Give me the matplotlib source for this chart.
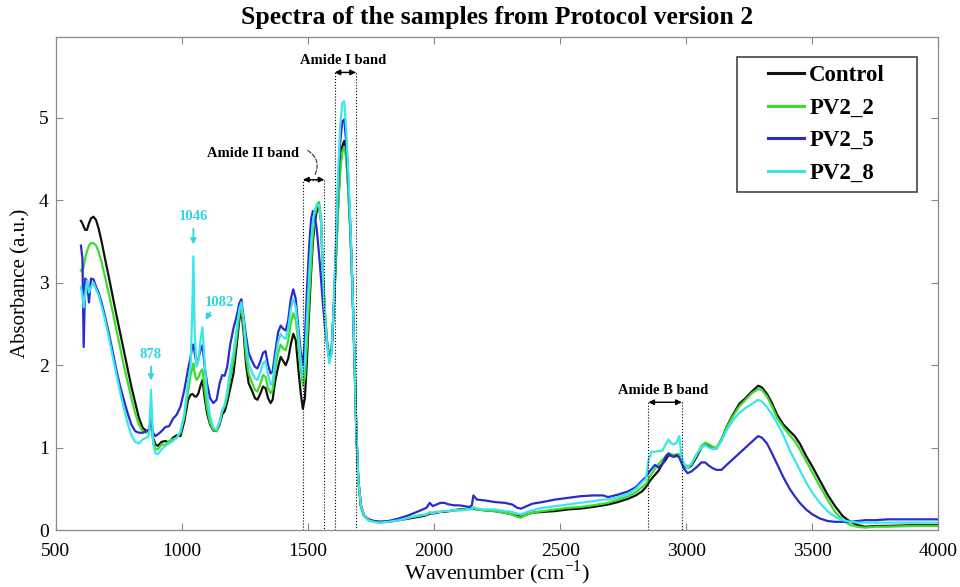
import matplotlib
matplotlib.use("Agg")
import matplotlib.pyplot as plt
from matplotlib.patches import Rectangle
import numpy as np

plt.rcParams["font.family"] = ["Liberation Serif", "DejaVu Serif"]
plt.rcParams["mathtext.fontset"] = "custom"
plt.rcParams["mathtext.rm"] = "Liberation Serif"

# wavenumber grid (cm-1)
wavenumber = [
    600, 606, 611, 617, 624, 632, 640, 650, 660, 670, 682, 695, 710, 725, 740, 755, 770, 785, 800,
    815, 830, 845, 860, 870, 878, 886, 895, 905, 920, 935, 950, 965, 980, 995, 1010, 1025, 1035,
    1041, 1046, 1051, 1058, 1066, 1074, 1082, 1090, 1100, 1112, 1125, 1138, 1150, 1160, 1170, 1180,
    1192, 1205, 1218, 1228, 1236, 1245, 1255, 1265, 1277, 1290, 1300, 1312, 1322, 1332, 1342, 1352,
    1360, 1370, 1382, 1392, 1402, 1412, 1422, 1432, 1442, 1452, 1462, 1472, 1480,
    1488, 1496, 1505, 1513, 1520, 1528, 1536, 1544, 1552, 1560, 1568, 1576, 1585, 1594, 1603, 1612,
    1620, 1628, 1636, 1644, 1652, 1660, 1668, 1676, 1684, 1692, 1700, 1710, 1722,
    1740, 1760, 1785, 1820, 1860, 1900, 1940, 1970, 1983, 1995, 2010, 2025, 2040, 2060, 2080, 2100,
    2120, 2140, 2150, 2156, 2170, 2200, 2240, 2280, 2310, 2330, 2345, 2360, 2390, 2430, 2480, 2530,
    2580, 2630, 2670, 2690, 2730, 2770, 2800, 2825,
    2840, 2850, 2862, 2876, 2890, 2905, 2920, 2930, 2940, 2952, 2962, 2972, 2982, 2992, 3005, 3020,
    3040, 3060, 3075, 3090, 3105, 3120, 3140, 3160, 3185, 3210, 3235, 3260, 3285, 3300, 3320, 3340,
    3360, 3385, 3410, 3430, 3450, 3475, 3500, 3530, 3560, 3590, 3620, 3650, 3680, 3710, 3750, 3800,
    3900, 4000,
]

control = [
    3.75, 3.72, 3.68, 3.64, 3.64, 3.72, 3.78, 3.80, 3.76, 3.66, 3.50, 3.30, 3.08, 2.85, 2.62, 2.40, 2.18, 1.96, 1.74,
    1.55, 1.36, 1.24, 1.20, 1.22, 1.28, 1.12, 1.04, 1.02, 1.07, 1.08, 1.06, 1.12, 1.15, 1.14, 1.32, 1.58, 1.64,
    1.65, 1.64, 1.62, 1.62, 1.66, 1.75, 1.82, 1.62, 1.42, 1.28, 1.21, 1.20, 1.28, 1.40, 1.44, 1.55,
    1.72, 1.90, 2.25, 2.55, 2.66, 2.40, 2.00, 1.78, 1.70, 1.60, 1.58, 1.66, 1.74, 1.72, 1.60, 1.54,
    1.58, 1.80, 1.98, 2.10, 2.05, 2.00, 2.08, 2.25, 2.38, 2.30, 1.95, 1.65, 1.47,
    1.60, 2.05, 2.65, 3.15, 3.50, 3.75, 3.88, 3.93, 3.75, 3.05, 2.60, 2.28, 2.08, 2.20, 2.70, 3.35,
    3.95, 4.40, 4.65, 4.72, 4.55, 4.15, 3.65, 3.00, 2.15, 1.20, 0.60, 0.30, 0.18,
    0.13, 0.11, 0.10, 0.10, 0.12, 0.14, 0.16, 0.18, 0.20, 0.20, 0.21, 0.22, 0.22, 0.23, 0.24, 0.25,
    0.25, 0.26, 0.26, 0.26, 0.25, 0.24, 0.23, 0.21, 0.19, 0.17, 0.16, 0.18, 0.21, 0.22, 0.23, 0.25,
    0.26, 0.28, 0.30, 0.31, 0.34, 0.38, 0.42, 0.47,
    0.52, 0.57, 0.62, 0.67, 0.72, 0.80, 0.86, 0.91, 0.90, 0.89, 0.90, 0.89, 0.83, 0.78, 0.75, 0.78,
    0.88, 1.00, 1.05, 1.03, 1.00, 0.99, 1.10, 1.25, 1.40, 1.53, 1.60, 1.68, 1.75, 1.73, 1.65, 1.54,
    1.40, 1.28, 1.20, 1.14, 1.05, 0.90, 0.77, 0.60, 0.43, 0.29, 0.17, 0.10, 0.06, 0.04, 0.05, 0.05,
    0.06, 0.06,
]

pv2_2 = [
    3.15, 3.13, 3.20, 3.30, 3.38, 3.45, 3.48, 3.48, 3.45, 3.38, 3.25, 3.08, 2.88, 2.66, 2.44, 2.22, 2.00, 1.80, 1.60,
    1.42, 1.28, 1.20, 1.18, 1.20, 1.26, 1.10, 0.98, 0.98, 1.04, 1.03, 1.08, 1.10, 1.12, 1.18, 1.38, 1.68, 1.88,
    1.95, 2.02, 1.90, 1.82, 1.85, 1.92, 1.95, 1.72, 1.48, 1.30, 1.22, 1.20, 1.30, 1.45, 1.50, 1.62,
    1.85, 2.05, 2.35, 2.62, 2.70, 2.48, 2.10, 1.90, 1.80, 1.70, 1.68, 1.78, 1.88, 1.86, 1.72, 1.66,
    1.70, 1.95, 2.15, 2.25, 2.20, 2.18, 2.30, 2.50, 2.63, 2.55, 2.25, 1.95, 1.75,
    1.85, 2.25, 2.80, 3.25, 3.60, 3.82, 3.95, 3.98, 3.80, 3.10, 2.62, 2.28, 2.08, 2.20, 2.70, 3.35,
    3.90, 4.35, 4.58, 4.65, 4.50, 4.10, 3.60, 2.95, 2.10, 1.15, 0.58, 0.28, 0.17,
    0.12, 0.10, 0.09, 0.10, 0.12, 0.15, 0.17, 0.19, 0.21, 0.21, 0.22, 0.22, 0.23, 0.23, 0.24, 0.24,
    0.25, 0.26, 0.26, 0.27, 0.25, 0.24, 0.23, 0.21, 0.19, 0.16, 0.15, 0.18, 0.21, 0.23, 0.25, 0.27,
    0.28, 0.30, 0.32, 0.33, 0.37, 0.41, 0.46, 0.52,
    0.56, 0.61, 0.68, 0.74, 0.80, 0.85, 0.90, 0.93, 0.92, 0.91, 0.92, 0.92, 0.85, 0.80, 0.77, 0.80,
    0.90, 1.02, 1.06, 1.04, 1.01, 1.00, 1.10, 1.24, 1.38, 1.50, 1.58, 1.66, 1.71, 1.70, 1.62, 1.50,
    1.36, 1.25, 1.15, 1.08, 0.98, 0.84, 0.70, 0.53, 0.37, 0.22, 0.12, 0.06, 0.04, 0.03, 0.04, 0.04,
    0.05, 0.05,
]

pv2_5 = [
    3.45, 3.30, 2.22, 3.05, 3.03, 2.76, 3.05, 3.04, 2.95, 2.88, 2.76, 2.60, 2.40, 2.18, 1.95, 1.75, 1.58, 1.42, 1.28,
    1.20, 1.18, 1.18, 1.20, 1.22, 1.35, 1.18, 1.14, 1.16, 1.20, 1.25, 1.26, 1.35, 1.40, 1.50, 1.70, 1.95, 2.10,
    2.22, 2.25, 2.15, 2.03, 2.08, 2.18, 2.24, 2.00, 1.78, 1.60, 1.54, 1.58, 1.78, 1.88, 1.87, 1.98,
    2.25, 2.45, 2.60, 2.75, 2.80, 2.58, 2.35, 2.15, 2.06, 1.98, 1.96, 2.05, 2.15, 2.17, 2.00, 1.90,
    1.92, 2.15, 2.40, 2.48, 2.44, 2.42, 2.55, 2.80, 2.92, 2.80, 2.45, 2.15, 2.00,
    2.30, 2.90, 3.45, 3.78, 3.87, 3.80, 3.62, 3.35, 3.05, 2.72, 2.45, 2.25, 2.08, 2.15, 2.75, 3.50,
    4.20, 4.70, 4.95, 4.98, 4.70, 4.25, 3.70, 3.00, 2.15, 1.20, 0.60, 0.30, 0.18,
    0.13, 0.11, 0.10, 0.11, 0.14, 0.18, 0.23, 0.27, 0.33, 0.29, 0.31, 0.33, 0.33, 0.31, 0.30, 0.30,
    0.29, 0.28, 0.30, 0.42, 0.37, 0.36, 0.34, 0.33, 0.31, 0.27, 0.26, 0.28, 0.32, 0.34, 0.37, 0.39,
    0.41, 0.42, 0.42, 0.40, 0.43, 0.47, 0.52, 0.60,
    0.64, 0.69, 0.74, 0.79, 0.76, 0.80, 0.90, 0.93, 0.90, 0.89, 0.91, 0.88, 0.81, 0.74, 0.69, 0.71,
    0.76, 0.82, 0.82, 0.78, 0.75, 0.73, 0.73, 0.79, 0.86, 0.93, 1.00, 1.07, 1.14, 1.12, 1.05, 0.93,
    0.80, 0.64, 0.50, 0.41, 0.33, 0.25, 0.19, 0.14, 0.11, 0.10, 0.10, 0.10, 0.11, 0.12, 0.12, 0.13,
    0.13, 0.13,
]

pv2_8 = [
    2.95, 2.85, 2.70, 2.85, 3.03, 2.88, 2.95, 3.00, 2.92, 2.85, 2.72, 2.56, 2.35, 2.12, 1.90, 1.68, 1.48, 1.30, 1.15,
    1.07, 1.05, 1.10, 1.12, 1.15, 1.70, 1.05, 0.93, 0.92, 0.98, 1.02, 1.05, 1.08, 1.12, 1.20, 1.40, 1.80, 2.00,
    2.60, 3.32, 2.40, 1.98, 2.05, 2.30, 2.46, 2.05, 1.65, 1.38, 1.24, 1.22, 1.32, 1.45, 1.52, 1.68,
    1.95, 2.15, 2.45, 2.68, 2.76, 2.55, 2.25, 2.02, 1.92, 1.84, 1.82, 1.92, 2.02, 2.05, 1.88, 1.76,
    1.80, 2.05, 2.28, 2.38, 2.34, 2.32, 2.45, 2.68, 2.80, 2.70, 2.38, 2.05, 1.85,
    2.05, 2.55, 3.10, 3.50, 3.75, 3.88, 3.95, 3.94, 3.75, 3.05, 2.58, 2.25, 2.02, 2.15, 2.80, 3.55,
    4.35, 4.90, 5.18, 5.20, 4.85, 4.35, 3.75, 3.02, 2.15, 1.20, 0.60, 0.30, 0.18,
    0.12, 0.10, 0.09, 0.10, 0.12, 0.15, 0.18, 0.19, 0.22, 0.20, 0.22, 0.22, 0.23, 0.23, 0.24, 0.24,
    0.24, 0.25, 0.25, 0.28, 0.26, 0.25, 0.25, 0.23, 0.22, 0.20, 0.19, 0.21, 0.24, 0.27, 0.29, 0.31,
    0.33, 0.35, 0.37, 0.37, 0.40, 0.44, 0.50, 0.58,
    0.62, 0.84, 0.95, 0.95, 0.96, 0.96, 1.05, 1.10, 1.05, 1.04, 1.06, 1.14, 0.88, 0.80, 0.75, 0.80,
    0.92, 1.00, 1.03, 1.00, 0.98, 0.99, 1.08, 1.21, 1.33, 1.42, 1.48, 1.53, 1.58, 1.56, 1.49, 1.40,
    1.30, 1.15, 0.97, 0.85, 0.73, 0.58, 0.45, 0.33, 0.23, 0.16, 0.12, 0.10, 0.09, 0.09, 0.09, 0.09,
    0.09, 0.09,
]

series_names = ["Control", "PV2_2", "PV2_5", "PV2_8"]
series_colors = ["#111111", "#3ddc2a", "#2a2ad0", "#3ae6ea"]

# band limits (cm-1) and arrow heights
amide_bands = [("Amide II band", 1481, 1565, 4.25), ("Amide I band", 1606, 1690, 5.55),
               ("Amide B band", 2850, 2982, 1.55)]

fig = plt.figure(figsize=(9.6, 5.87), dpi=100)
ax = fig.add_axes([0.058, 0.097, 0.9196, 0.84])

for y, name, col in zip([control, pv2_2, pv2_5, pv2_8], series_names, series_colors):
    ax.plot(wavenumber, y, color=col, lw=1.6, label=name)

ax.set_xlim(500, 4000)
ax.set_ylim(0, 5.98)
ax.set_xticks(np.arange(500, 4001, 500))
ax.set_yticks(np.arange(0, 6, 1))
ax.tick_params(direction="in", top=True, right=True, length=5, color="#888888", labelsize=14)
ax.tick_params(axis="x", pad=9)
ax.tick_params(axis="y", pad=5)
for sp in ax.spines.values():
    sp.set_color("#8a8a8a")
    sp.set_linewidth(0.9)

ax.set_title("Spectra of the samples from Protocol version 2", fontsize=18.5,
             fontweight="bold", pad=9)
ax.set_xlabel("Wavenumber (cm$^{-1}$)", fontsize=16, labelpad=-1)
ax.set_ylabel("Absorbance (a.u.)", fontsize=15, labelpad=6)

# dotted band boxes with double arrows
for label, lo, hi, top in amide_bands:
    ax.plot([lo, lo, hi, hi], [0, top, top, 0], color="black", lw=0.8, ls=":")
    ax.annotate("", xy=(lo, top), xytext=(hi, top),
                arrowprops=dict(arrowstyle="<|-|>", color="black", lw=1.0,
                                mutation_scale=8, shrinkA=0, shrinkB=0))

ax.text(1640, 5.69, "Amide I band", ha="center", va="center", fontsize=10.5, fontweight="bold")
ax.text(1282, 4.57, "Amide II band", ha="center", va="center", fontsize=10.5, fontweight="bold")
ax.annotate("", xy=(1523, 4.28), xytext=(1490, 4.62),
            arrowprops=dict(arrowstyle="-", color="#333333", lw=0.8, ls="--",
                            connectionstyle="arc3,rad=-0.5"))
ax.text(2910, 1.69, "Amide B band", ha="center", va="center", fontsize=10.5, fontweight="bold")

# peak markers
label_col = "#2fd6e0"
ax.text(878, 2.05, "878", color=label_col, ha="center", va="bottom", fontsize=10.5, fontweight="bold")
ax.annotate("", xy=(878, 1.78), xytext=(878, 2.02),
            arrowprops=dict(arrowstyle="-|>", color=label_col, lw=1.3, mutation_scale=8))
ax.text(1046, 3.72, "1046", color=label_col, ha="center", va="bottom", fontsize=10.5, fontweight="bold")
ax.annotate("", xy=(1046, 3.43), xytext=(1046, 3.69),
            arrowprops=dict(arrowstyle="-|>", color=label_col, lw=1.3, mutation_scale=8))
ax.text(1150, 2.68, "1082", color=label_col, ha="center", va="bottom", fontsize=10.5, fontweight="bold")
ax.annotate("", xy=(1088, 2.52), xytext=(1118, 2.67),
            arrowprops=dict(arrowstyle="-|>", color=label_col, lw=1.3, mutation_scale=8))

# legend: MATLAB-style wide box drawn separately
ax.add_patch(Rectangle((0.7717, 0.6856), 0.2039, 0.2738, transform=ax.transAxes,
                       facecolor="white", edgecolor="#444444", lw=1.2, zorder=4))
leg = ax.legend(loc="upper left", bbox_to_anchor=(0.794, 0.966), frameon=False,
                handlelength=1.55, labelspacing=0.5, borderpad=0, handletextpad=0.25,
                prop={"weight": "bold", "size": 16.5})
leg.set_zorder(5)
for h in leg.get_lines():
    h.set_linewidth(2.2)

fig.savefig("out.png", dpi=100)
